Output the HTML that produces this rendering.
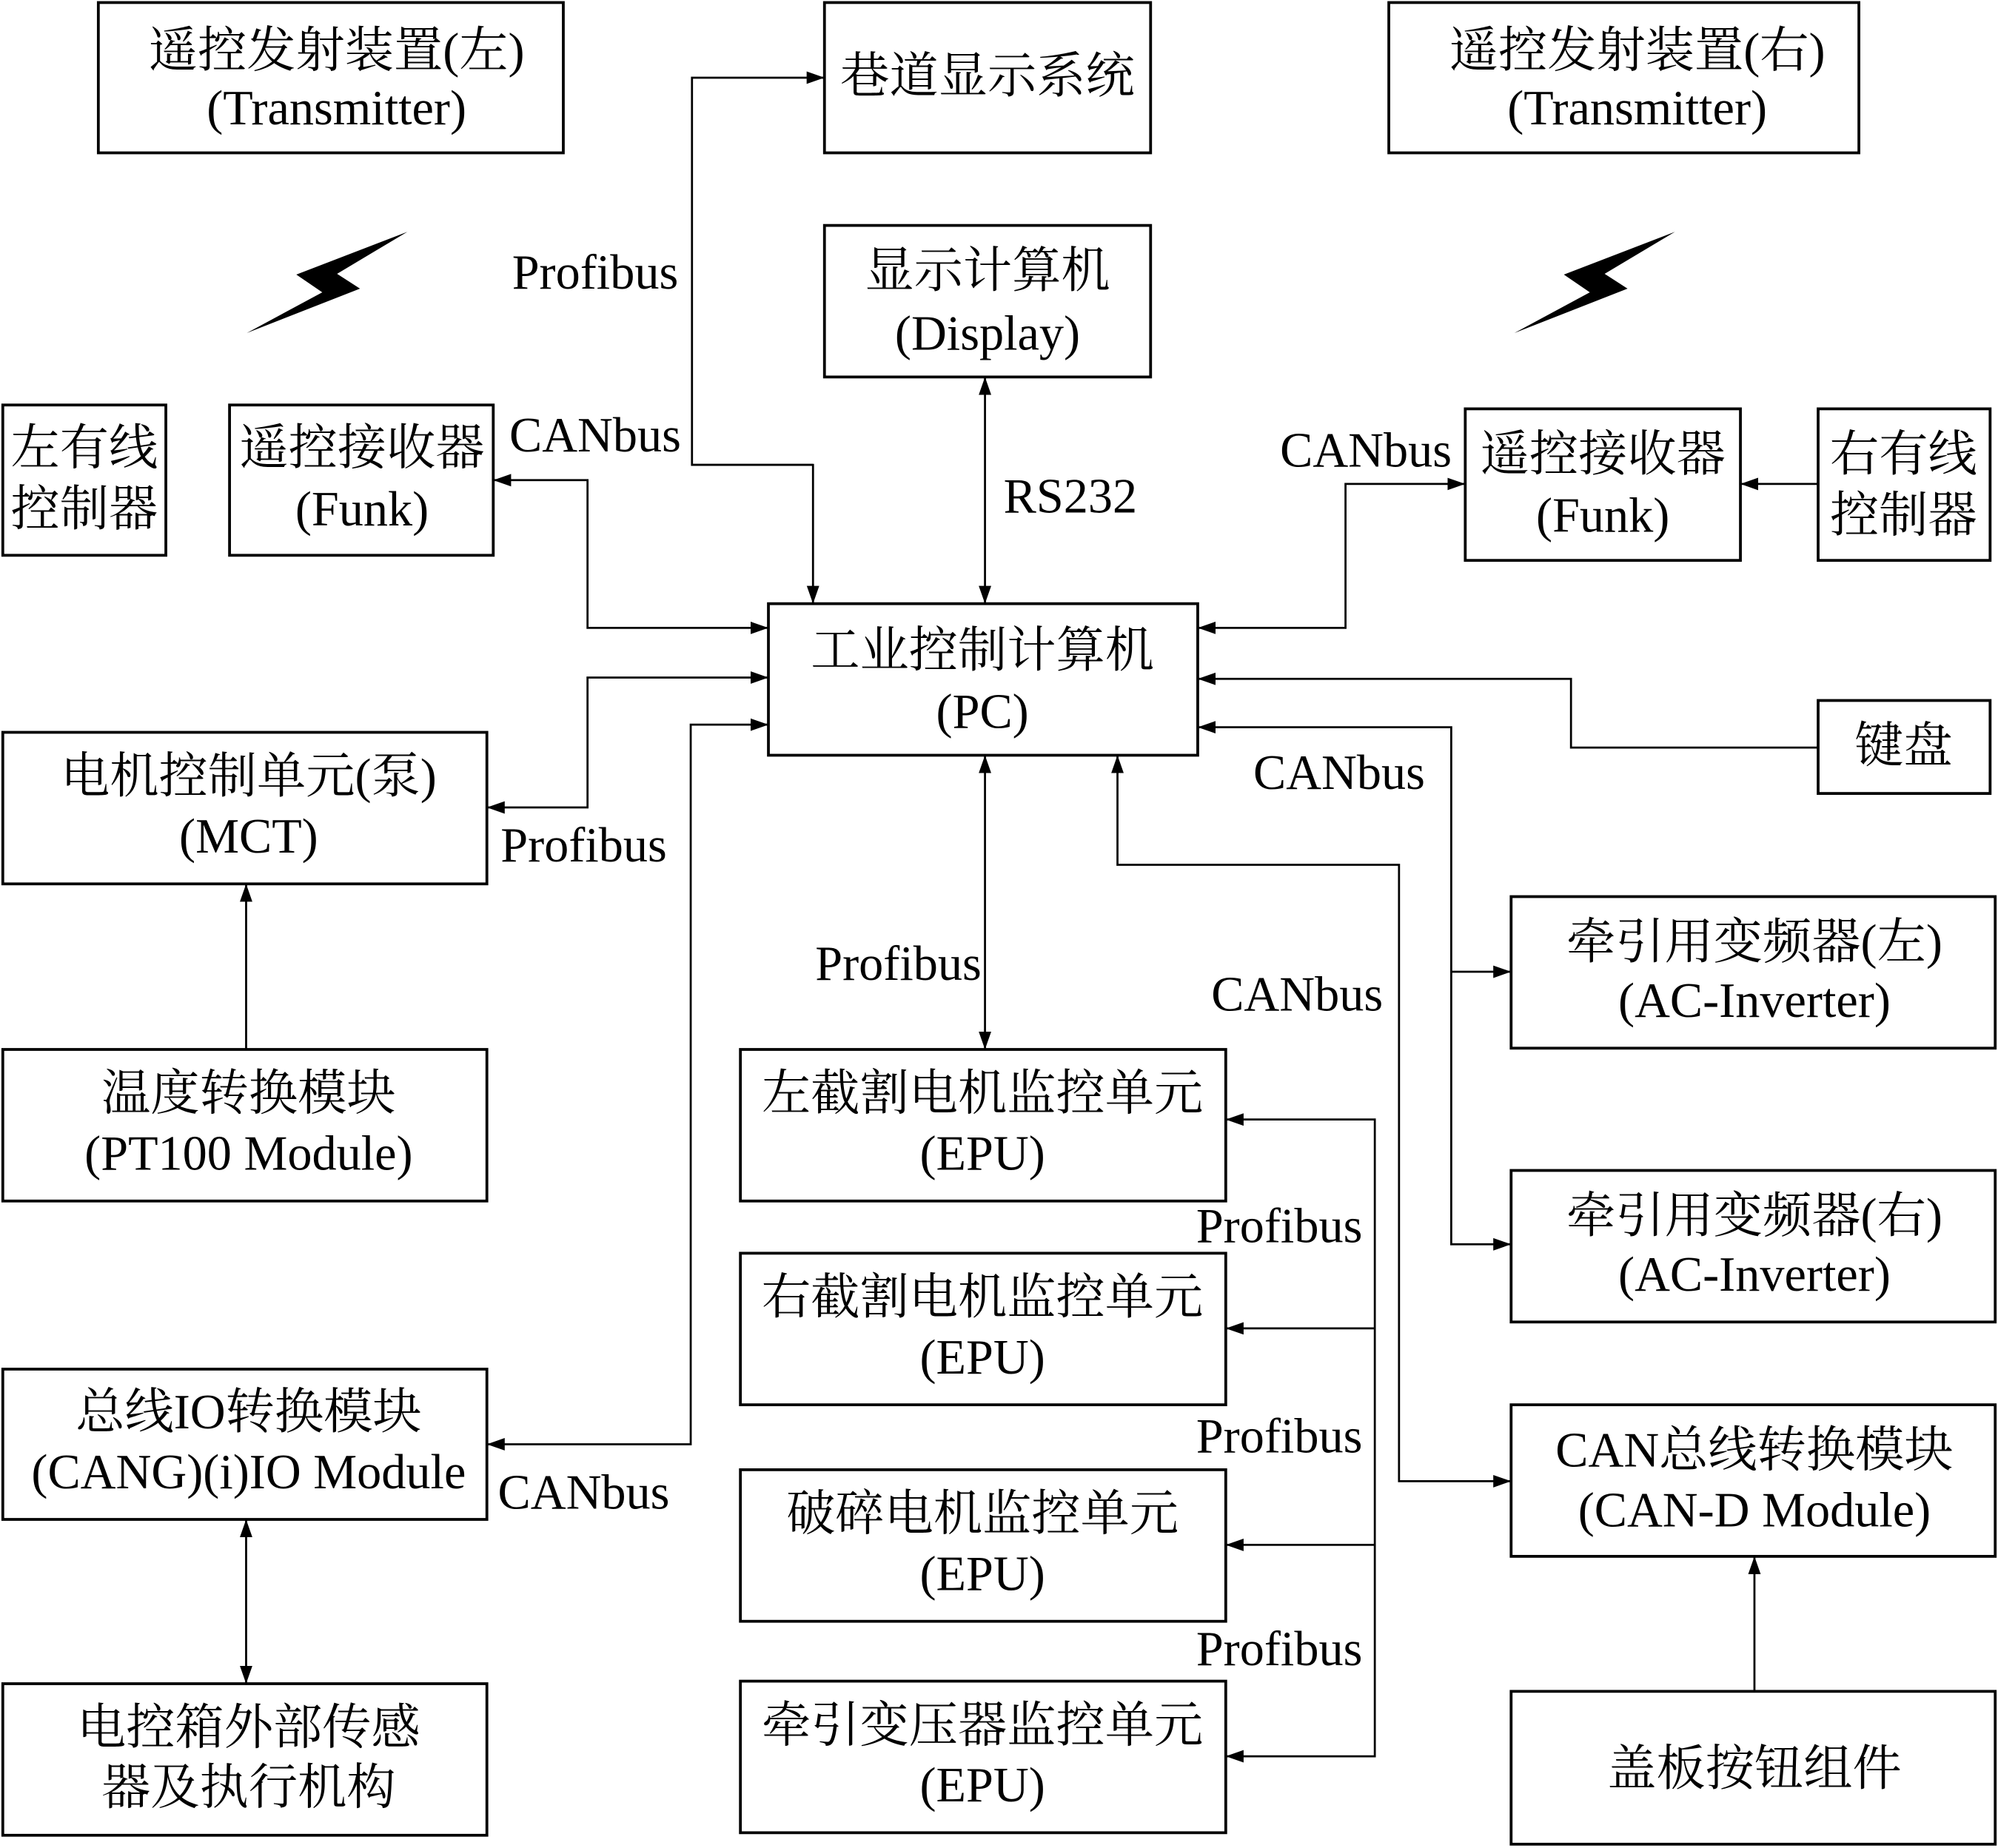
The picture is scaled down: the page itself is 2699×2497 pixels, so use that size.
<!DOCTYPE html>
<html><head><meta charset="utf-8"><style>
html,body{margin:0;padding:0;background:#fff;}
svg{display:block;}
text{font-family:"Liberation Serif","Noto Serif CJK SC",serif;font-size:38.5px;fill:#000;text-anchor:middle;dominant-baseline:central;}
.b{fill:#fff;stroke:#000;stroke-width:2.2;}
.l{fill:none;stroke:#000;stroke-width:1.6;}
</style></head><body>
<svg width="2699" height="2497" viewBox="0 0 1568 1451" xmlns="http://www.w3.org/2000/svg">
<defs><marker id="a" viewBox="0 0 10 10" refX="10" refY="5" markerWidth="14" markerHeight="14" markerUnits="userSpaceOnUse" orient="auto-start-reverse"><path d="M0,1.5 L10,5 L0,8.5 z" fill="#000"/></marker></defs>

<polyline class="l" points="638,365 543,365 543,61 647,61" marker-end="url(#a)"/>
<polyline class="l" points="543,365 638,365 638,474" marker-end="url(#a)"/>
<line class="l" x1="773" y1="296" x2="773" y2="474" marker-start="url(#a)" marker-end="url(#a)"/>
<polyline class="l" points="387,377 461,377 461,493 603,493" marker-start="url(#a)" marker-end="url(#a)"/>
<polyline class="l" points="940,493 1056,493 1056,380 1150,380" marker-start="url(#a)" marker-end="url(#a)"/>
<line class="l" x1="1427" y1="380" x2="1366" y2="380" marker-end="url(#a)"/>
<polyline class="l" points="1427,587 1233,587 1233,533 940,533" marker-end="url(#a)"/>
<polyline class="l" points="603,532 461,532 461,634 382,634" marker-start="url(#a)" marker-end="url(#a)"/>
<polyline class="l" points="603,569 542,569 542,1134 382,1134" marker-start="url(#a)" marker-end="url(#a)"/>
<line class="l" x1="773" y1="593" x2="773" y2="824" marker-start="url(#a)" marker-end="url(#a)"/>
<polyline class="l" points="940,571 1139,571 1139,977 1186,977" marker-start="url(#a)" marker-end="url(#a)"/>
<line class="l" x1="1139" y1="763" x2="1186" y2="763" marker-end="url(#a)"/>
<polyline class="l" points="877,593 877,679 1098,679 1098,1163 1186,1163" marker-start="url(#a)" marker-end="url(#a)"/>
<polyline class="l" points="962,879 1079,879 1079,1379 962,1379" marker-start="url(#a)" marker-end="url(#a)"/>
<line class="l" x1="1079" y1="1043" x2="962" y2="1043" marker-end="url(#a)"/>
<line class="l" x1="1079" y1="1213" x2="962" y2="1213" marker-end="url(#a)"/>
<line class="l" x1="193" y1="824" x2="193" y2="694" marker-end="url(#a)"/>
<line class="l" x1="193" y1="1193" x2="193" y2="1322" marker-start="url(#a)" marker-end="url(#a)"/>
<line class="l" x1="1377" y1="1328" x2="1377" y2="1222" marker-end="url(#a)"/>

<polygon points="319.6,182 232.4,215.6 252.8,229.5 193.5,261.5 282.4,226.6 264.4,215" fill="#000"/>
<polygon points="1314.6,182 1227.4,215.6 1247.8,229.5 1188.5,261.5 1277.4,226.6 1259.4,215" fill="#000"/>

<rect class="b" x="77" y="2" width="365" height="118"/><text x="264" y="40">遥控发射装置(左)</text><text x="264" y="85">(Transmitter)</text>
<rect class="b" x="647" y="2" width="256" height="118"/><text x="775" y="60">巷道显示系统</text>
<rect class="b" x="1090" y="2" width="369" height="118"/><text x="1285" y="40">遥控发射装置(右)</text><text x="1285" y="85">(Transmitter)</text>
<rect class="b" x="647" y="177" width="256" height="119"/><text x="775" y="213">显示计算机</text><text x="775" y="262">(Display)</text>
<rect class="b" x="2" y="318" width="128" height="118"/><text x="66" y="352">左有线</text><text x="66" y="400">控制器</text>
<rect class="b" x="180" y="318" width="207" height="118"/><text x="284" y="352">遥控接收器</text><text x="284" y="400">(Funk)</text>
<rect class="b" x="1150" y="321" width="216" height="119"/><text x="1258" y="357">遥控接收器</text><text x="1258" y="405">(Funk)</text>
<rect class="b" x="1427" y="321" width="135" height="119"/><text x="1494" y="357">右有线</text><text x="1494" y="405">控制器</text>
<rect class="b" x="603" y="474" width="337" height="119"/><text x="771" y="511">工业控制计算机</text><text x="771" y="559">(PC)</text>
<rect class="b" x="1427" y="550" width="135" height="73"/><text x="1494" y="586">键盘</text>
<rect class="b" x="2" y="575" width="380" height="119"/><text x="195" y="610">电机控制单元(泵)</text><text x="195" y="657">(MCT)</text>
<rect class="b" x="1186" y="704" width="380" height="119"/><text x="1377" y="740">牵引用变频器(左)</text><text x="1377" y="786">(AC-Inverter)</text>
<rect class="b" x="2" y="824" width="380" height="119"/><text x="195" y="859">温度转换模块</text><text x="195" y="906">(PT100 Module)</text>
<rect class="b" x="581" y="824" width="381" height="119"/><text x="771" y="859">左截割电机监控单元</text><text x="771" y="906">(EPU)</text>
<rect class="b" x="1186" y="919" width="380" height="119"/><text x="1377" y="955">牵引用变频器(右)</text><text x="1377" y="1001">(AC-Inverter)</text>
<rect class="b" x="581" y="984" width="381" height="119"/><text x="771" y="1019">右截割电机监控单元</text><text x="771" y="1066">(EPU)</text>
<rect class="b" x="2" y="1075" width="380" height="118"/><text x="195" y="1109">总线IO转换模块</text><text x="195" y="1156">(CANG)(i)IO Module</text>
<rect class="b" x="1186" y="1103" width="380" height="119"/><text x="1377" y="1139">CAN总线转换模块</text><text x="1377" y="1186">(CAN-D Module)</text>
<rect class="b" x="581" y="1154" width="381" height="119"/><text x="771" y="1189">破碎电机监控单元</text><text x="771" y="1236">(EPU)</text>
<rect class="b" x="2" y="1322" width="380" height="119"/><text x="195" y="1357">电控箱外部传感</text><text x="195" y="1404">器及执行机构</text>
<rect class="b" x="581" y="1320" width="381" height="119"/><text x="771" y="1355">牵引变压器监控单元</text><text x="771" y="1402">(EPU)</text>
<rect class="b" x="1186" y="1328" width="380" height="120"/><text x="1377" y="1389">盖板按钮组件</text>

<text x="467" y="214">Profibus</text>
<text x="467" y="342">CANbus</text>
<text x="840" y="390">RS232</text>
<text x="1072" y="354">CANbus</text>
<text x="458" y="664">Profibus</text>
<text x="1051" y="607">CANbus</text>
<text x="705" y="757">Profibus</text>
<text x="1018" y="781">CANbus</text>
<text x="1004" y="963">Profibus</text>
<text x="1004" y="1128">Profibus</text>
<text x="1004" y="1295">Profibus</text>
<text x="458" y="1172">CANbus</text>
</svg>
</body></html>
